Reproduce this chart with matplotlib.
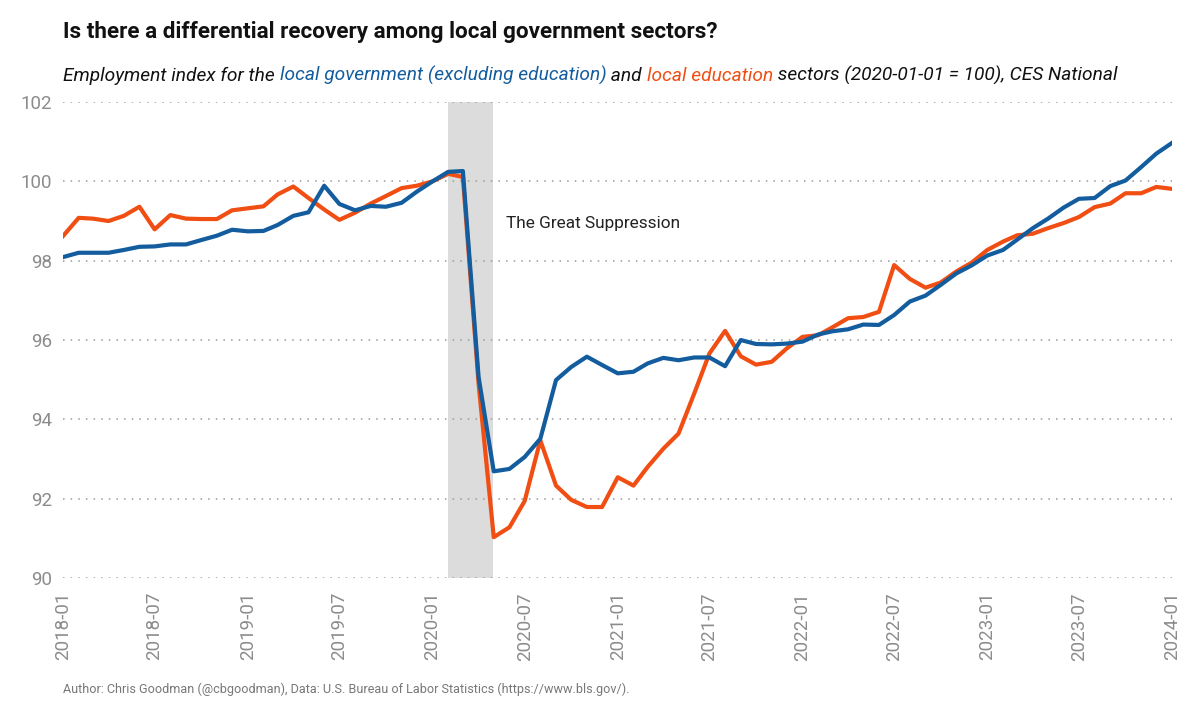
import matplotlib
matplotlib.use("Agg")
import matplotlib.pyplot as plt
import matplotlib.dates as mdates
import pandas as pd

BLUE = "#135c9e"
ORANGE = "#f04e13"
GREY = "#8c8c8c"

months = pd.date_range("2018-01-01", "2024-01-01", freq="MS")

# local government (excluding education)
local_gov = [
    98.09, 98.20, 98.20, 98.20, 98.27, 98.35, 98.36, 98.41, 98.41, 98.52,
    98.63, 98.78, 98.74, 98.75, 98.90, 99.13, 99.22, 99.89, 99.43, 99.27,
    99.38, 99.36, 99.46, 99.74, 100.00, 100.24, 100.26, 95.07, 92.69, 92.75,
    93.05, 93.51, 94.99, 95.32, 95.58, 95.37, 95.16, 95.20, 95.41, 95.55,
    95.49, 95.56, 95.56, 95.34, 96.00, 95.90, 95.89, 95.91, 95.96, 96.14,
    96.22, 96.27, 96.39, 96.38, 96.63, 96.97, 97.12, 97.39, 97.68, 97.88,
    98.13, 98.27, 98.53, 98.82, 99.06, 99.34, 99.56, 99.58, 99.88, 100.02,
    100.36, 100.70, 100.97,
]

# local education
local_edu = [
    98.62, 99.08, 99.06, 99.00, 99.13, 99.36, 98.79, 99.15, 99.06, 99.05,
    99.05, 99.27, 99.32, 99.37, 99.67, 99.87, 99.58, 99.29, 99.03, 99.21,
    99.44, 99.63, 99.83, 99.89, 100.00, 100.19, 100.11, 94.90, 91.03, 91.28,
    91.94, 93.47, 92.33, 91.97, 91.79, 91.79, 92.54, 92.33, 92.80, 93.26,
    93.64, 94.65, 95.66, 96.23, 95.59, 95.38, 95.45, 95.79, 96.08, 96.12,
    96.32, 96.55, 96.58, 96.71, 97.89, 97.54, 97.32, 97.45, 97.73, 97.95,
    98.27, 98.48, 98.64, 98.68, 98.82, 98.95, 99.10, 99.35, 99.44, 99.70,
    99.70, 99.86, 99.81,
]

shade_start = pd.Timestamp("2020-02-01")
shade_end = pd.Timestamp("2020-04-30")
note_x = pd.Timestamp("2020-05-25")
note_y = 98.95
tick_dates = pd.date_range("2018-01-01", "2024-01-01", freq="6MS")
y_ticks = [90, 92, 94, 96, 98, 100, 102]

plt.rcParams["font.family"] = ["Roboto", "DejaVu Sans"]

fig = plt.figure(figsize=(12, 7.2), dpi=100)
ax = fig.add_axes([0.0525, 0.1972, 0.9242, 0.6611])

ax.axvspan(shade_start, shade_end, color="#dcdcdc", lw=0, zorder=1)
ax.plot(months, local_edu, color=ORANGE, lw=3, zorder=3)
ax.plot(months, local_gov, color=BLUE, lw=3, zorder=4)
ax.text(note_x, note_y, "The Great Suppression", fontsize=12.4, color="#222222",
        va="center", ha="left", zorder=5)

ax.set_xlim(months[0], months[-1])
ax.set_ylim(90, 102)
ax.set_yticks(y_ticks)
ax.set_xticks(tick_dates)
ax.xaxis.set_major_formatter(mdates.DateFormatter("%Y-%m"))
ax.grid(axis="y", color="#9a9a9a", ls=(0, (1, 4)), lw=1.1, zorder=0)
for s in ax.spines.values():
    s.set_visible(False)
ax.tick_params(axis="both", length=0, colors=GREY, labelsize=13.5)
ax.tick_params(axis="y", pad=8)
ax.tick_params(axis="x", pad=10)
for lab in ax.get_xticklabels():
    lab.set_rotation(90)

fig.text(0.0525, 0.955, "Is there a differential recovery among local government sectors?",
         fontsize=16.2, fontweight="bold", color="#111111", va="center", ha="left")

# subtitle with coloured segments, laid out left to right
parts = [
    ("Employment index for the ", "#111111"),
    ("local government (excluding education)", BLUE),
    (" and ", "#111111"),
    ("local education", ORANGE),
    (" sectors (2020-01-01 = 100), CES National", "#111111"),
]
renderer = fig.canvas.get_renderer()
x_pos = 0.0525
for txt, col in parts:
    t = fig.text(x_pos, 0.888, txt, fontsize=13.8, style="italic", color=col,
                 va="baseline", ha="left")
    x_pos = t.get_window_extent(renderer).x1 / fig.bbox.width

fig.text(0.0525, 0.042,
         "Author: Chris Goodman (@cbgoodman), Data: U.S. Bureau of Labor Statistics (https://www.bls.gov/).",
         fontsize=9.1, color="#777777", va="center", ha="left")

fig.savefig("out.png", dpi=100, facecolor="white")
